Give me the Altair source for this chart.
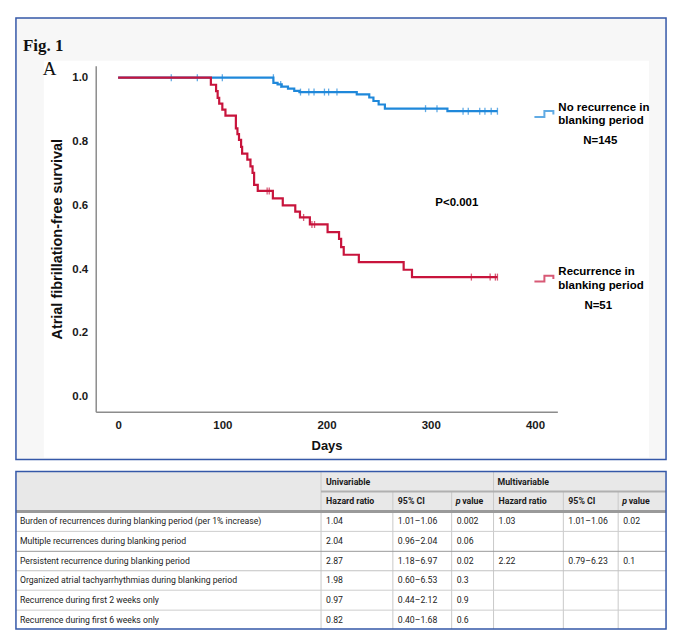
import altair as alt
import pandas as pd

# ---------------- Kaplan-Meier data ----------------
GROUPS = ["No recurrence in blanking period", "Recurrence in blanking period"]
COLORS = ["#1f88da", "#c8143c"]

no_rec_day = [0, 149, 153, 157, 163, 169, 174, 229, 241, 245, 250, 256, 316, 364]
no_rec_surv = [1.0, 0.984, 0.979, 0.972, 0.966, 0.959, 0.955, 0.948, 0.938, 0.927,
               0.916, 0.903, 0.895, 0.895]
no_rec_cens_day = [51, 76, 100, 149, 156, 175, 183, 188, 198, 202, 210, 295, 306,
                   331, 336, 347, 352, 358, 364]
no_rec_cens_surv = [1.0, 1.0, 1.0, 1.0, 0.979, 0.955, 0.955, 0.955, 0.955, 0.955, 0.955,
                    0.903, 0.903, 0.895, 0.895, 0.895, 0.895, 0.895, 0.895]

rec_day = [0, 89, 94, 95.5, 97, 100, 103, 113, 114.5, 116, 118, 119, 124, 127, 129,
           130.5, 134, 148.5, 158, 170, 174.5, 184, 201, 212, 214, 216.5, 231, 274, 282, 364]
rec_surv = [1.0, 0.978, 0.958, 0.937, 0.919, 0.900, 0.881, 0.841, 0.823, 0.805, 0.783,
            0.762, 0.743, 0.722, 0.702, 0.664, 0.645, 0.622, 0.600, 0.580, 0.562, 0.540,
            0.516, 0.495, 0.469, 0.445, 0.422, 0.398, 0.375, 0.375]
rec_cens_day = [143, 145, 178, 186, 188.5, 339, 357, 362, 364]
rec_cens_surv = [0.645, 0.645, 0.562, 0.540, 0.540, 0.375, 0.375, 0.375, 0.375]

x_ticks = [0, 100, 200, 300, 400]
y_ticks = [0.0, 0.2, 0.4, 0.6, 0.8, 1.0]
N_TEXT = ["N=145", "N=51"]
P_TEXT = "P<0.001"

# ---------------- Table data ----------------
row_labels = [
    "Burden of recurrences during blanking period (per 1% increase)",
    "Multiple recurrences during blanking period",
    "Persistent recurrence during blanking period",
    "Organized atrial tachyarrhythmias during blanking period",
    "Recurrence during first 2 weeks only",
    "Recurrence during first 6 weeks only",
]
uni_hr = ["1.04", "2.04", "2.87", "1.98", "0.97", "0.82"]
uni_ci = ["1.01–1.06", "0.96–2.04", "1.18–6.97", "0.60–6.53", "0.44–2.12", "0.40–1.68"]
uni_p = ["0.002", "0.06", "0.02", "0.3", "0.9", "0.6"]
multi_hr = ["1.03", "", "2.22", "", "", ""]
multi_ci = ["1.01–1.06", "", "0.79–6.23", "", "", ""]
multi_p = ["0.02", "", "0.1", "", "", ""]
group_headers = ["Univariable", "Multivariable"]
col_headers = ["Hazard ratio", "95% CI", "value"]

# ---------------- styles / layout ----------------
KM_FONT = "Liberation Sans"
SERIF = "Liberation Serif"
TB_FONT = "Roboto"
FRAME_BLUE = "#3558a8"
AXIS_GREY = "#8c8c8c"
# step-shaped legend glyph, retraced so that it encloses no area
STEP_GLYPH = "M-1,0.95L0,0.95L0,0.35L0.9,0.35L0.9,0.7L0.9,0.35L0,0.35L0,0.95Z"

km_df = pd.concat([
    pd.DataFrame({"day": no_rec_day, "surv": no_rec_surv, "group": GROUPS[0]}),
    pd.DataFrame({"day": rec_day, "surv": rec_surv, "group": GROUPS[1]}),
])
cens_df = pd.concat([
    pd.DataFrame({"day": no_rec_cens_day, "surv": no_rec_cens_surv, "group": GROUPS[0]}),
    pd.DataFrame({"day": rec_cens_day, "surv": rec_cens_surv, "group": GROUPS[1]}),
])
one = pd.DataFrame({"k": [0]})

x_scale = alt.Scale(domain=[-21.5, 421.5], nice=False, zero=False)
y_scale = alt.Scale(domain=[-0.047, 1.0375], nice=False, zero=False)
color_scale = alt.Scale(domain=GROUPS, range=COLORS)

x_axis = alt.Axis(values=x_ticks, format="d", grid=False, ticks=False, labelPadding=8, zindex=2,
                  labelFont=KM_FONT, labelFontSize=11.5, labelFontWeight="bold", labelColor="#1a1a1a",
                  domainColor=AXIS_GREY, domainWidth=1.5, title="Days", titleFont=KM_FONT,
                  titleFontSize=13, titleFontWeight="bold", titleColor="#111", titlePadding=8)
y_axis = alt.Axis(values=y_ticks, format=".1f", grid=False, ticks=False, labelPadding=8, zindex=2,
                  labelFont=KM_FONT, labelFontSize=11.5, labelFontWeight="bold", labelColor="#1a1a1a",
                  domainColor=AXIS_GREY, domainWidth=1.5, title="Atrial fibrillation-free survival",
                  titleFont=KM_FONT, titleFontSize=14.5, titleFontWeight="bold", titleColor="#111",
                  titlePadding=7)
legend = alt.Legend(title=None, orient="none", legendX=439, legendY=31, direction="vertical",
                    padding=0, symbolType=STEP_GLYPH,
                    symbolSize=400, symbolStrokeWidth=2, symbolFillColor="transparent",
                    labelExpr="[replace(datum.label, ' blanking period', ''), 'blanking period']",
                    labelFont=KM_FONT, labelFontSize=11.5, labelFontWeight="bold",
                    labelColor="#000", labelLimit=300, labelOffset=3, rowPadding=135)

color_enc = alt.Color("group:N", scale=color_scale, legend=legend)

frame = alt.Chart(one).mark_rect(fill="#f7f7f7", stroke=FRAME_BLUE, strokeWidth=1.5).encode(
    x=alt.value(-80), x2=alt.value(572), y=alt.value(-48), y2=alt.value(395))
white = alt.Chart(one).mark_rect(fill="white").encode(
    x=alt.value(-52), x2=alt.value(555), y=alt.value(-5), y2=alt.value(393))

def km_line(g):
    return alt.Chart(km_df).transform_filter(alt.datum.group == g).mark_line(
        interpolate="step-after", strokeWidth=2.2).encode(
        x=alt.X("day:Q", scale=x_scale, axis=x_axis),
        y=alt.Y("surv:Q", scale=y_scale, axis=y_axis),
        color=color_enc)

def km_ticks(g):
    return alt.Chart(cens_df).transform_filter(alt.datum.group == g).mark_tick(
        orient="vertical", size=7, thickness=1.3).encode(
        x=alt.X("day:Q", scale=x_scale, axis=x_axis), y=alt.Y("surv:Q", scale=y_scale, axis=y_axis),
        color=color_enc)

p_text = alt.Chart(one).mark_text(text=P_TEXT, font=KM_FONT, fontSize=11.5, fontWeight="bold",
                                  color="#000").encode(x=alt.datum(325), y=alt.datum(0.606))
n1 = alt.Chart(one).mark_text(text=N_TEXT[0], font=KM_FONT, fontSize=11.5, fontWeight="bold",
                              color="#000").encode(x=alt.value(506), y=alt.value(75))
n2 = alt.Chart(one).mark_text(text=N_TEXT[1], font=KM_FONT, fontSize=11.5, fontWeight="bold",
                              color="#000").encode(x=alt.value(504), y=alt.value(241))
fig_t = alt.Chart(one).mark_text(text="Fig. 1", font=SERIF, fontSize=17, fontWeight="bold",
                                 align="left", baseline="alphabetic", color="#111").encode(
    x=alt.value(-73), y=alt.value(-15))
a_t = alt.Chart(one).mark_text(text="A", font=SERIF, fontSize=19, align="left",
                               baseline="middle", color="#111").encode(
    x=alt.value(-53), y=alt.value(3))

km = alt.layer(frame, white, km_line(GROUPS[0]), km_ticks(GROUPS[0]),
               km_line(GROUPS[1]), km_ticks(GROUPS[1]), p_text, n1, n2, fig_t, a_t).properties(
    width=463, height=347)

# ---------------- Table ----------------
# table units: 0 = table's left/top border; the table view starts at the KM plot's left edge
TW, TH = 652, 158
T_LEFT = 80
col_edges = [0, 306, 378, 437, 479, 549, 604, TW]
hdr_edges = [0, 20, 40]
data_edges = [40, 60, 80, 99.5, 119, 139, TH]

tx = alt.Scale(domain=[T_LEFT, TW], nice=False, zero=False)
ty = alt.Scale(domain=[0, TH], nice=False, zero=False, reverse=True)

cells = []
for i, lab in enumerate(row_labels):
    yc = (data_edges[i] + data_edges[i + 1]) / 2
    vals = [lab, uni_hr[i], uni_ci[i], uni_p[i], multi_hr[i], multi_ci[i], multi_p[i]]
    for j, v in enumerate(vals):
        if v:
            cells.append({"t": v, "x": col_edges[j] + (4 if j == 0 else 5), "y": yc})
cells_df = pd.DataFrame(cells)

hdr = []
yh1 = (hdr_edges[0] + hdr_edges[1]) / 2
yh2 = (hdr_edges[1] + hdr_edges[2]) / 2
hdr.append({"t": group_headers[0], "x": col_edges[1] + 5, "y": yh1})
hdr.append({"t": group_headers[1], "x": col_edges[4] + 4, "y": yh1})
for base in (1, 4):
    hdr.append({"t": col_headers[0], "x": col_edges[base] + 5, "y": yh2})
    hdr.append({"t": col_headers[1], "x": col_edges[base + 1] + 5, "y": yh2})
    hdr.append({"t": col_headers[2], "x": col_edges[base + 2] + 10.5, "y": yh2})
hdr_df = pd.DataFrame(hdr)
pit_df = pd.DataFrame({"t": ["p", "p"], "x": [col_edges[3] + 4, col_edges[6] + 4], "y": [yh2, yh2]})

bg_df = pd.DataFrame({"x": [0], "x2": [TW], "y": [0], "y2": [hdr_edges[2]]})
frame_df = pd.DataFrame({"x": [0], "x2": [TW], "y": [0], "y2": [TH]})
vlines = pd.DataFrame({
    "x": [col_edges[1], col_edges[2], col_edges[3], col_edges[4], col_edges[5], col_edges[6]],
    "y": [0, hdr_edges[1], hdr_edges[1], 0, hdr_edges[1], hdr_edges[1]],
    "y2": [TH] * 6})
hlines = pd.DataFrame({"x": [0] * 5, "x2": [TW] * 5, "y": data_edges[1:-1],
                       "c": ["#cdcdcd", "#9a9a9a", "#c2c2c2", "#cdcdcd", "#cdcdcd"]})
subhdr_line = pd.DataFrame({"x": [col_edges[1]], "x2": [TW], "y": [hdr_edges[1]]})
thick_line = pd.DataFrame({"x": [0], "x2": [TW], "y": [hdr_edges[2]]})

def X(f="x"):
    return alt.X(f"{f}:Q", scale=tx, axis=None)

def Y(f="y"):
    return alt.Y(f"{f}:Q", scale=ty, axis=None)

t_bg = alt.Chart(bg_df).mark_rect(fill="#e8e8e8").encode(x=X(), x2="x2:Q", y=Y(), y2="y2:Q")
t_v = alt.Chart(vlines).mark_rule(color="#c9c9c9", strokeWidth=1).encode(x=X(), y=Y(), y2="y2:Q")
t_h = alt.Chart(hlines).mark_rule(strokeWidth=1).encode(
    x=X(), x2="x2:Q", y=Y(), color=alt.Color("c:N", scale=None))
t_sub = alt.Chart(subhdr_line).mark_rule(color="#b0b0b0", strokeWidth=2).encode(x=X(), x2="x2:Q", y=Y())
t_thick = alt.Chart(thick_line).mark_rule(color="#9a9a9a", strokeWidth=3).encode(x=X(), x2="x2:Q", y=Y())
t_frame = alt.Chart(frame_df).mark_rect(fill="transparent", stroke=FRAME_BLUE, strokeWidth=1.5).encode(
    x=X(), x2="x2:Q", y=Y(), y2="y2:Q")
t_cells = alt.Chart(cells_df).mark_text(align="left", baseline="middle", font=TB_FONT, fontSize=8.7,
                                        color="#222").encode(x=X(), y=Y(), text="t:N")
t_hdr = alt.Chart(hdr_df).mark_text(align="left", baseline="middle", font=TB_FONT, fontSize=8.8,
                                    fontWeight="bold", color="#1a1a1a").encode(x=X(), y=Y(), text="t:N")
t_pit = alt.Chart(pit_df).mark_text(align="left", baseline="middle", font=TB_FONT, fontSize=8.8,
                                    fontStyle="italic", fontWeight="bold", color="#1a1a1a").encode(
    x=X(), y=Y(), text="t:N")

table = alt.layer(t_bg, t_v, t_h, t_sub, t_thick, t_frame, t_cells, t_hdr, t_pit).properties(
    width=TW - T_LEFT, height=TH)

chart = alt.vconcat(km, table, spacing=8).resolve_scale(color="independent").properties(
    padding={"left": 14, "top": 15, "right": 12, "bottom": 8}, background="white"
).configure_view(stroke="transparent")

chart.save("out.html", embed_options={"renderer": "svg", "actions": False})
